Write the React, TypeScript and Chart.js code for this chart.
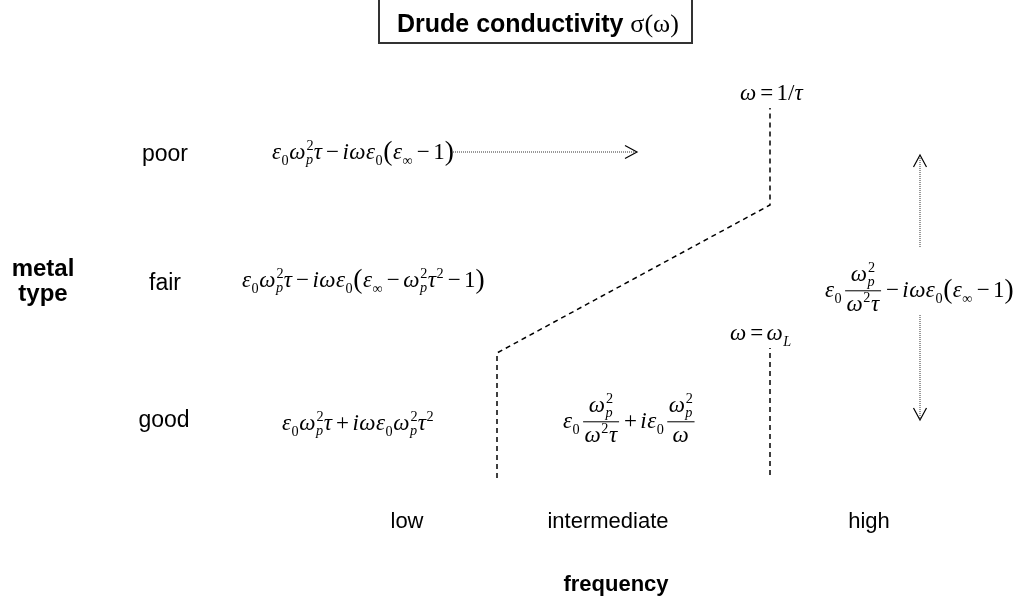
import React, { useEffect, useRef } from "react";
import { Chart, registerables } from "chart.js";

Chart.register(...registerables);

// ---- diagram data (diagram coordinates: x = frequency axis, y = metal-type axis, both in canvas units) ----
const X_RANGE = [0, 1015];
const Y_RANGE = [0, 608];

// regime boundaries (dashed)
const boundaryLowX = [497, 497, 770, 770];
const boundaryLowY = [478, 353, 205, 108];
const boundaryHighX = [770, 770];
const boundaryHighY = [475, 348];

// dotted arrows (start -> tip)
const arrowRightX = [453, 637];
const arrowRightY = [152, 152];
const arrowUpX = [920, 920];
const arrowUpY = [247, 155];
const arrowDownX = [920, 920];
const arrowDownY = [315, 420];

// category labels
const metalTypes = ["poor", "fair", "good"];
const metalTypeX = [165, 165, 164];
const metalTypeY = [161, 290, 427];
const frequencies = ["low", "intermediate", "high"];
const frequencyX = [407, 608, 869];
const frequencyY = [528, 528, 528];

const axisTitleY = ["metal", "type"];
const axisTitleX = "frequency";
const chartTitle = "Drude conductivity ";
const chartTitleSym = "σ(ω)";

// formulas: tokens  I = italic, R = roman, O = operator, P = paren, S = [sub, sup, subItalic], F = fraction
type Tok = any[];
const fPoorLow: Tok[] = [["I", "ε"], ["S", "0", null, false], ["I", "ω"], ["S", "p", "2", true], ["I", "τ"], ["O", "−"], ["I", "i"], ["I", "ω"], ["I", "ε"], ["S", "0", null, false], ["P", "("], ["I", "ε"], ["S", "∞", null, false], ["O", "−"], ["R", "1"], ["P", ")"]];
const fFairLow: Tok[] = [["I", "ε"], ["S", "0", null, false], ["I", "ω"], ["S", "p", "2", true], ["I", "τ"], ["O", "−"], ["I", "i"], ["I", "ω"], ["I", "ε"], ["S", "0", null, false], ["P", "("], ["I", "ε"], ["S", "∞", null, false], ["O", "−"], ["I", "ω"], ["S", "p", "2", true], ["I", "τ"], ["S", null, "2", false], ["O", "−"], ["R", "1"], ["P", ")"]];
const fGoodLow: Tok[] = [["I", "ε"], ["S", "0", null, false], ["I", "ω"], ["S", "p", "2", true], ["I", "τ"], ["O", "+"], ["I", "i"], ["I", "ω"], ["I", "ε"], ["S", "0", null, false], ["I", "ω"], ["S", "p", "2", true], ["I", "τ"], ["S", null, "2", false]];
const fGoodMid: Tok[] = [["I", "ε"], ["S", "0", null, false], ["F", [["I", "ω"], ["S", "p", "2", true]], [["I", "ω"], ["S", null, "2", false], ["I", "τ"]]], ["O", "+"], ["I", "i"], ["I", "ε"], ["S", "0", null, false], ["F", [["I", "ω"], ["S", "p", "2", true]], [["I", "ω"]]]];
const fHigh: Tok[] = [["I", "ε"], ["S", "0", null, false], ["F", [["I", "ω"], ["S", "p", "2", true]], [["I", "ω"], ["S", null, "2", false], ["I", "τ"]]], ["O", "−"], ["I", "i"], ["I", "ω"], ["I", "ε"], ["S", "0", null, false], ["P", "("], ["I", "ε"], ["S", "∞", null, false], ["O", "−"], ["R", "1"], ["P", ")"]];
const fTau: Tok[] = [["I", "ω"], ["O", "="], ["R", "1"], ["R", "/"], ["I", "τ"]];
const fOmegaL: Tok[] = [["I", "ω"], ["O", "="], ["I", "ω"], ["S", "L", null, true]];

const formulas = [fPoorLow, fFairLow, fGoodLow, fGoodMid, fHigh, fTau, fOmegaL];
const formulaX = [272, 242, 282, 563, 825, 740, 730];
const formulaY = [159, 287, 430, 428, 297, 100, 340];

const SERIF = '"Liberation Serif", "Times New Roman", serif';
const SANS = '"Liberation Sans", Arial, sans-serif';
const FSIZE = 23;

function fontStr(it: boolean, size: number) {
  return `${it ? "italic " : ""}${size}px ${SERIF}`;
}

function runTokens(ctx: CanvasRenderingContext2D, toks: Tok[], size: number, x: number, base: number, draw: boolean): number {
  let cx = x;
  for (const t of toks) {
    const k = t[0];
    if (k === "I" || k === "R") {
      ctx.font = fontStr(k === "I", size);
      if (draw) ctx.fillText(t[1], cx, base);
      cx += ctx.measureText(t[1]).width + (k === "I" ? size * 0.02 : 0);
    } else if (k === "O") {
      const pad = size * 0.15;
      ctx.font = fontStr(false, size);
      cx += pad;
      if (draw) ctx.fillText(t[1], cx, base);
      cx += ctx.measureText(t[1]).width + pad;
    } else if (k === "P") {
      const ps = size * 1.2;
      ctx.font = fontStr(false, ps);
      if (draw) ctx.fillText(t[1], cx, base + size * 0.06);
      cx += ctx.measureText(t[1]).width + size * 0.02;
    } else if (k === "S") {
      const ss = size * 0.62;
      let w = 0;
      if (t[1]) {
        ctx.font = fontStr(!!t[3], ss);
        if (draw) ctx.fillText(t[1], cx, base + size * (t[2] ? 0.2 : 0.25));
        w = Math.max(w, ctx.measureText(t[1]).width);
      }
      if (t[2]) {
        ctx.font = fontStr(false, ss);
        if (draw) ctx.fillText(t[2], cx + (t[1] ? size * 0.02 : 0), base - size * 0.4);
        w = Math.max(w, ctx.measureText(t[2]).width);
      }
      cx += w + size * 0.03;
    } else if (k === "F") {
      const nw = runTokens(ctx, t[1], size, 0, 0, false);
      const dw = runTokens(ctx, t[2], size, 0, 0, false);
      const fw = Math.max(nw, dw) + size * 0.2;
      const bar = base - size * 0.27;
      cx += size * 0.08;
      if (draw) {
        runTokens(ctx, t[1], size, cx + (fw - nw) / 2, bar - size * 0.42, true);
        runTokens(ctx, t[2], size, cx + (fw - dw) / 2, bar + size * 0.88, true);
        ctx.fillRect(cx + size * 0.04, bar - 0.5, fw - size * 0.08, 1);
      }
      cx += fw + size * 0.02;
    }
  }
  return cx - x;
}

function pts(xs: number[], ys: number[]) {
  return xs.map((x, i) => ({ x, y: ys[i] }));
}

// arrowhead (open chevron) derived from the last segment of an arrow
function head(xs: number[], ys: number[], len = 12, half = 6.5) {
  const n = xs.length;
  const tx = xs[n - 1], ty = ys[n - 1];
  const dx = tx - xs[n - 2], dy = ty - ys[n - 2];
  const L = Math.hypot(dx, dy);
  const ux = dx / L, uy = dy / L;
  return [
    { x: tx - ux * len - uy * half, y: ty - uy * len + ux * half },
    { x: tx, y: ty },
    { x: tx - ux * len + uy * half, y: ty - uy * len - ux * half },
  ];
}

const textPlugin = {
  id: "diagramText",
  afterDatasetsDraw(chart: any) {
    const ctx: CanvasRenderingContext2D = chart.ctx;
    const xs = chart.scales.x, ys = chart.scales.y;
    const px = (v: number) => xs.getPixelForValue(v);
    const py = (v: number) => ys.getPixelForValue(v);
    ctx.save();
    ctx.fillStyle = "#000";
    ctx.textBaseline = "alphabetic";

    // title box
    ctx.font = `bold 25px ${SANS}`;
    const tw = ctx.measureText(chartTitle).width;
    ctx.strokeStyle = "#333";
    ctx.lineWidth = 2;
    ctx.strokeRect(px(379), py(-2), px(692) - px(379), py(43) - py(-2));
    ctx.textAlign = "left";
    const tx0 = px(397);
    ctx.fillText(chartTitle, tx0, py(32));
    ctx.font = `26px ${SERIF}`;
    ctx.fillText(chartTitleSym, tx0 + tw, py(32));

    // category labels
    ctx.textAlign = "center";
    ctx.font = `23px ${SANS}`;
    metalTypes.forEach((s, i) => ctx.fillText(s, px(metalTypeX[i]), py(metalTypeY[i])));
    ctx.font = `22px ${SANS}`;
    frequencies.forEach((s, i) => ctx.fillText(s, px(frequencyX[i]), py(frequencyY[i])));

    // axis titles
    ctx.font = `bold 24px ${SANS}`;
    ctx.fillText(axisTitleY[0], px(43), py(276));
    ctx.fillText(axisTitleY[1], px(43), py(301));
    ctx.font = `bold 22px ${SANS}`;
    ctx.fillText(axisTitleX, px(616), py(591));

    // formulas
    ctx.textAlign = "left";
    formulas.forEach((f, i) => runTokens(ctx, f, FSIZE, px(formulaX[i]), py(formulaY[i]), true));
    ctx.restore();
  },
};

export default function App() {
  const ref = useRef<HTMLCanvasElement>(null);
  useEffect(() => {
    if (!ref.current) return;
    const dashed = { borderColor: "#000", borderWidth: 1.5, borderDash: [5, 4], pointRadius: 0, fill: false, showLine: true, tension: 0 };
    const dotted = { borderColor: "#333", borderWidth: 1, borderDash: [1, 1], pointRadius: 0, fill: false, showLine: true, tension: 0 };
    const solid = { borderColor: "#000", borderWidth: 1.2, pointRadius: 0, fill: false, showLine: true, tension: 0 };
    const chart = new Chart(ref.current, {
      type: "scatter",
      data: {
        datasets: [
          { label: "boundary 1/τ", data: pts(boundaryLowX, boundaryLowY), ...dashed },
          { label: "boundary ωL", data: pts(boundaryHighX, boundaryHighY), ...dashed },
          { label: "arrow right", data: pts(arrowRightX, arrowRightY), ...dotted },
          { label: "arrow up", data: pts(arrowUpX, arrowUpY), ...dotted },
          { label: "arrow down", data: pts(arrowDownX, arrowDownY), ...dotted },
          { label: "head right", data: head(arrowRightX, arrowRightY), ...solid },
          { label: "head up", data: head(arrowUpX, arrowUpY), ...solid },
          { label: "head down", data: head(arrowDownX, arrowDownY), ...solid },
        ] as any,
      },
      options: {
        animation: false,
        responsive: true,
        maintainAspectRatio: false,
        layout: { padding: 0 },
        plugins: { legend: { display: false }, tooltip: { enabled: false }, title: { display: false } },
        scales: {
          x: { type: "linear", min: X_RANGE[0], max: X_RANGE[1], display: false },
          y: { type: "linear", min: Y_RANGE[0], max: Y_RANGE[1], reverse: true, display: false },
        },
      },
      plugins: [textPlugin],
    });
    return () => chart.destroy();
  }, []);
  return (
    <div style={{ position: "absolute", left: 0, top: 0, width: 1015, height: 608, background: "#fff" }}>
      <canvas ref={ref} />
    </div>
  );
}
